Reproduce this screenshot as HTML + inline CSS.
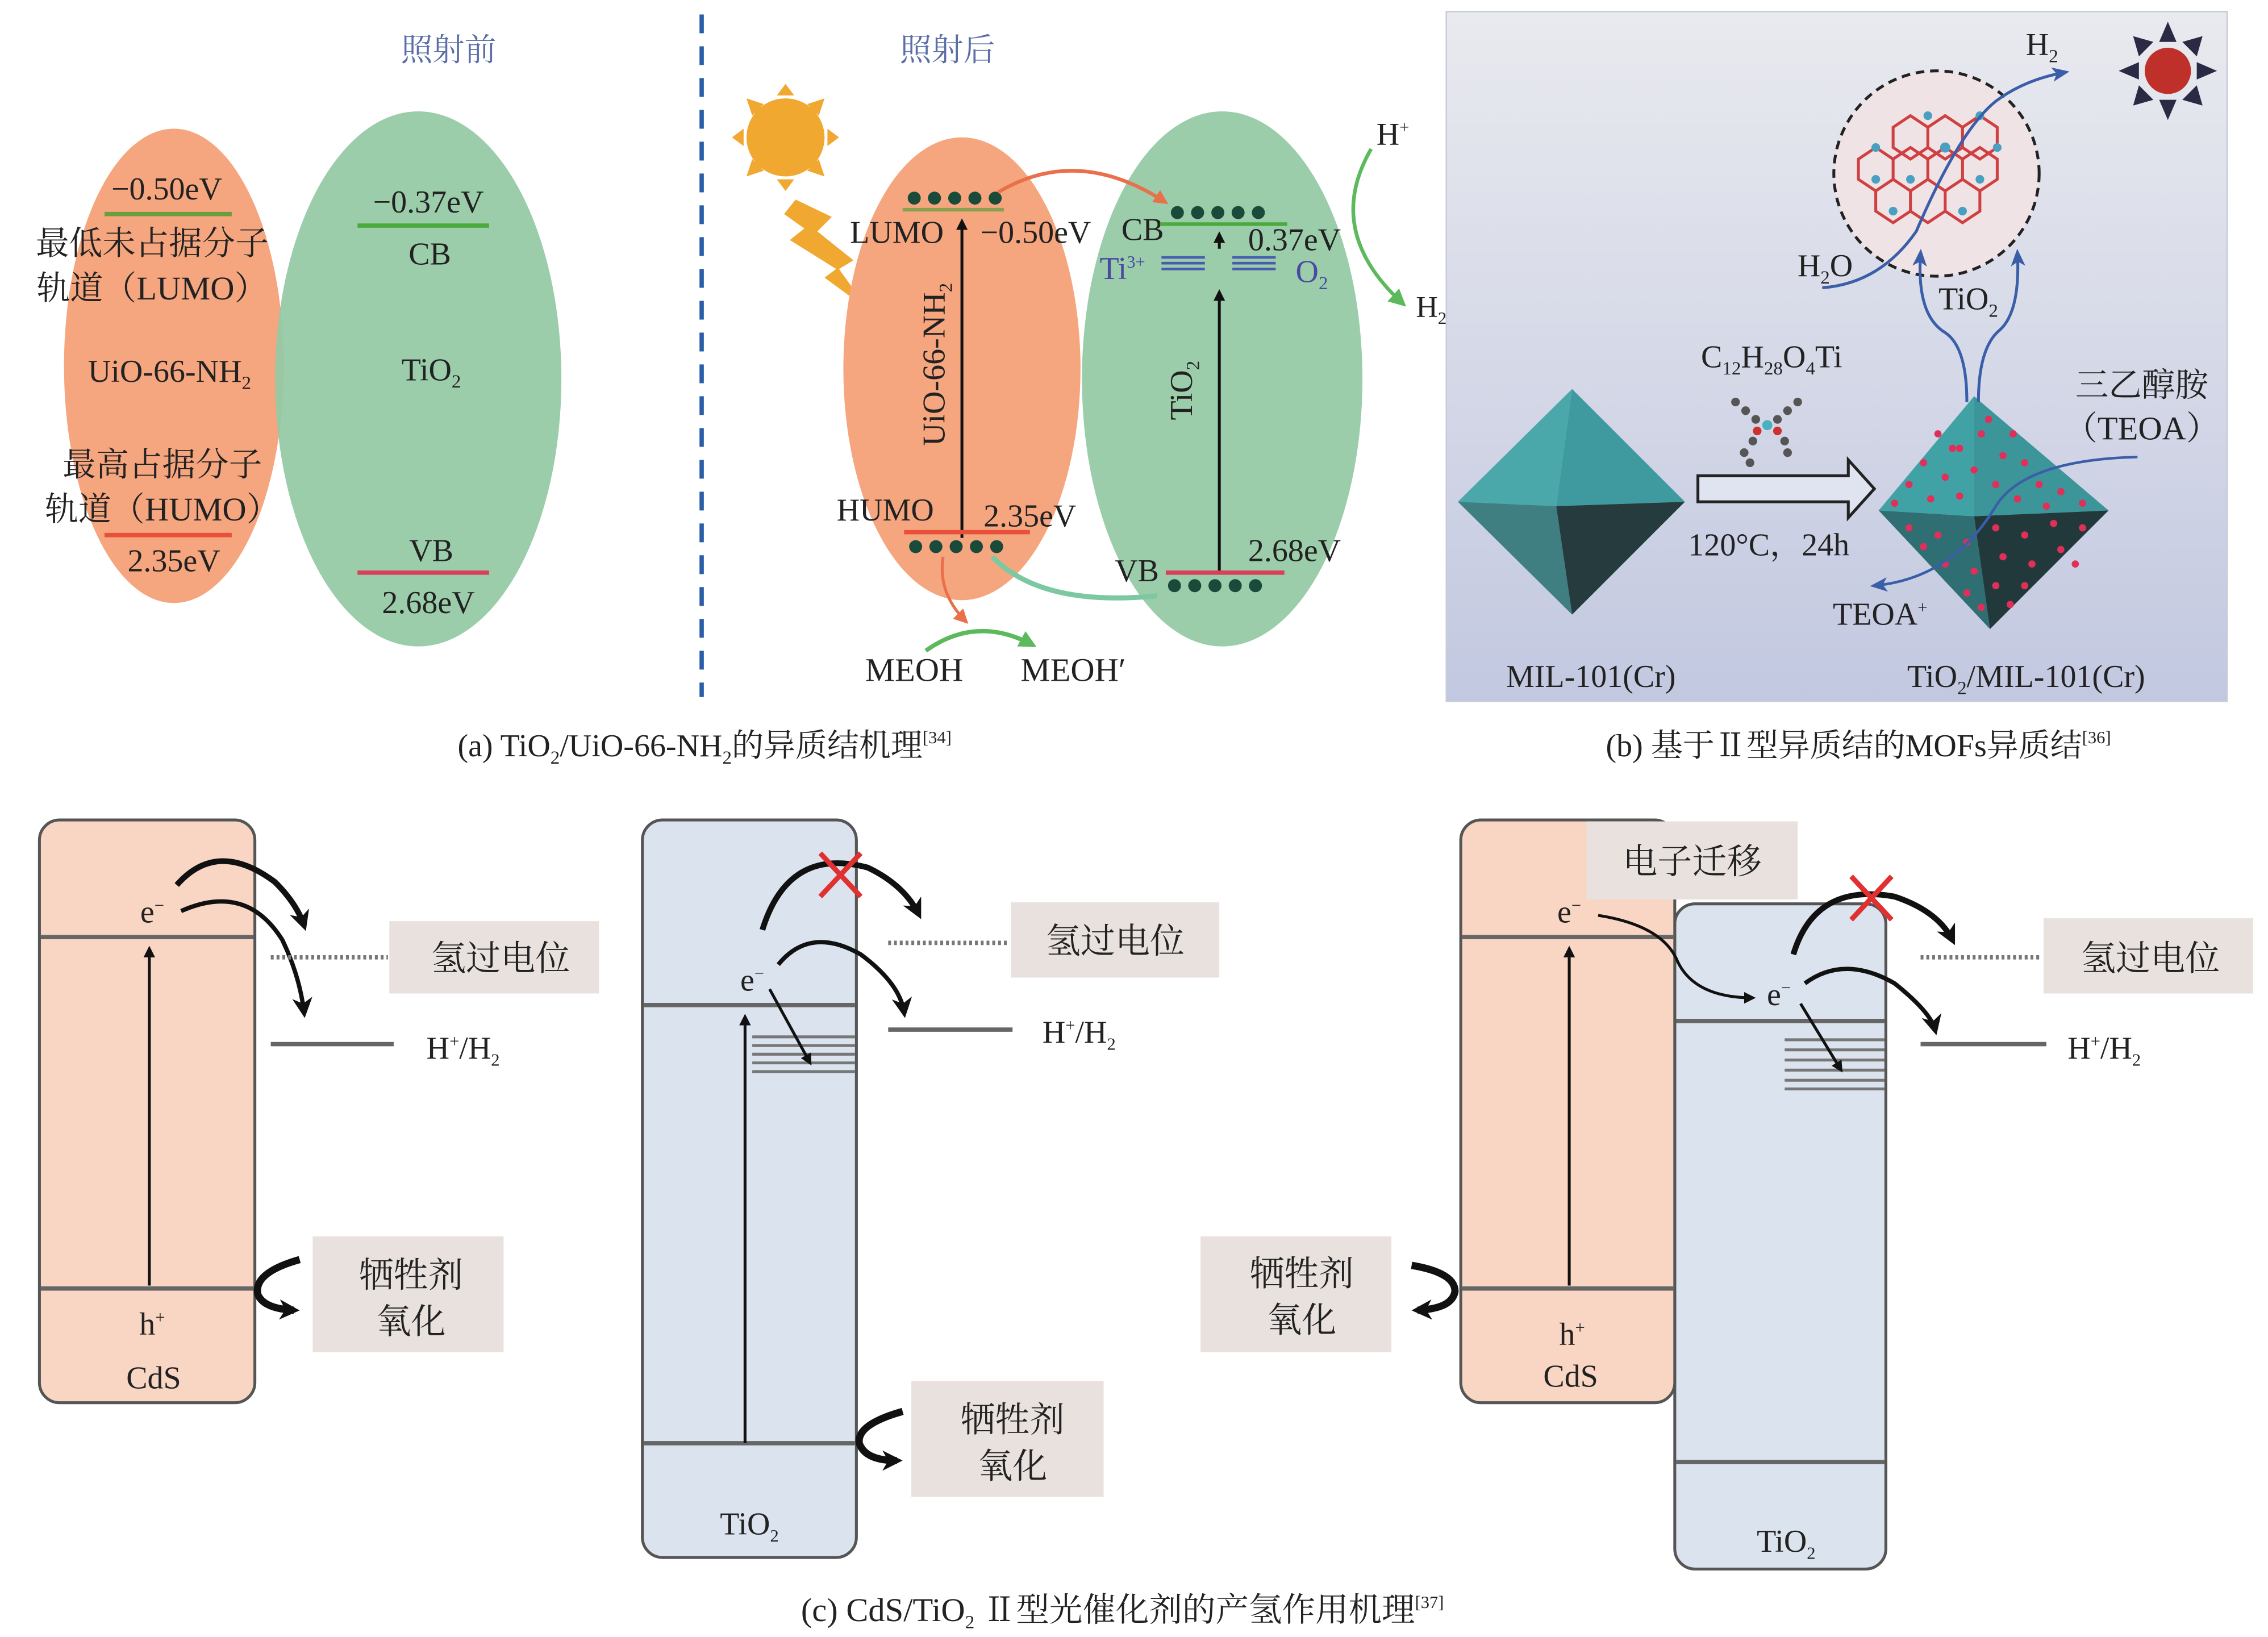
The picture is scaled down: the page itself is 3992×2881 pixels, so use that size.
<!DOCTYPE html>
<html><head><meta charset="utf-8"><style>
html,body{margin:0;padding:0;background:#fff;}
svg{display:block;}
text{font-family:"Liberation Serif","Noto Serif CJK SC",serif;fill:#222;}
</style></head><body>
<svg width="3992" height="2881" viewBox="0 0 1568 1132" xmlns="http://www.w3.org/2000/svg">
<defs>
<marker id="ak" markerWidth="8" markerHeight="8" refX="6" refY="4" orient="auto" markerUnits="userSpaceOnUse"><path d="M0,0 L8,4 L0,8 z" fill="#111"/></marker>
<marker id="akb" markerWidth="14" markerHeight="14" refX="10" refY="7" orient="auto" markerUnits="userSpaceOnUse"><path d="M0,0 L14,7 L0,14 L4,7 z" fill="#111"/></marker>
<marker id="ao" markerWidth="10" markerHeight="10" refX="8" refY="5" orient="auto" markerUnits="userSpaceOnUse"><path d="M0,0 L10,5 L0,10 z" fill="#e8704a"/></marker>
<marker id="ag" markerWidth="12" markerHeight="12" refX="9" refY="6" orient="auto" markerUnits="userSpaceOnUse"><path d="M0,0 L12,6 L0,12 z" fill="#5cba5c"/></marker>
<marker id="abl" markerWidth="12" markerHeight="12" refX="9" refY="6" orient="auto" markerUnits="userSpaceOnUse"><path d="M0,1 L12,6 L0,11 L3,6 z" fill="#3a5ea8"/></marker>
<linearGradient id="bg" x1="0" y1="0" x2="0" y2="1"><stop offset="0" stop-color="#e9eaef"/><stop offset="1" stop-color="#c2c8e0"/></linearGradient>
</defs>

<!-- Panel a: before -->
<text x="310" y="42" font-size="22" text-anchor="middle" style="fill:#5b6ea8">照射前</text>
<ellipse cx="120" cy="253" rx="76" ry="164" fill="#f5a67f"/>
<ellipse cx="289" cy="262" rx="99" ry="185" fill="#93c9a5" fill-opacity="0.93"/>
<text x="115" y="138" font-size="22" text-anchor="middle">−0.50eV</text>
<line x1="72" y1="148" x2="160" y2="148" stroke="#6a9e3c" stroke-width="3"/>
<text x="105" y="176" font-size="23" text-anchor="middle">最低未占据分子</text>
<text x="105" y="207" font-size="23" text-anchor="middle">轨道（LUMO）</text>
<text x="117" y="264" font-size="22" text-anchor="middle">UiO-66-NH<tspan font-size="13" dy="5">2</tspan></text>
<text x="112" y="329" font-size="23" text-anchor="middle">最高占据分子</text>
<text x="112" y="360" font-size="23" text-anchor="middle">轨道（HUMO）</text>
<line x1="72" y1="370" x2="160" y2="370" stroke="#e8503a" stroke-width="3"/>
<text x="120" y="395" font-size="22" text-anchor="middle">2.35eV</text>
<text x="296" y="147" font-size="22" text-anchor="middle">−0.37eV</text>
<line x1="247" y1="156" x2="338" y2="156" stroke="#4caa3c" stroke-width="3"/>
<text x="297" y="183" font-size="22" text-anchor="middle">CB</text>
<text x="298" y="263" font-size="22" text-anchor="middle">TiO<tspan font-size="13" dy="5">2</tspan></text>
<text x="298" y="388" font-size="22" text-anchor="middle">VB</text>
<line x1="247" y1="396" x2="338" y2="396" stroke="#d8405a" stroke-width="3"/>
<text x="296" y="424" font-size="22" text-anchor="middle">2.68eV</text>

<line x1="485" y1="10" x2="485" y2="482" stroke="#2a5fa8" stroke-width="3" stroke-dasharray="13,9"/>

<!-- Panel a: after -->
<text x="655" y="42" font-size="22" text-anchor="middle" style="fill:#5b6ea8">照射后</text>
<g fill="#f0a830">
<circle cx="543" cy="95" r="27"/>
<polygon points="543,58 537,66 549,66"/><polygon points="543,132 537,124 549,124"/>
<polygon points="506,95 514,89 514,101"/><polygon points="580,95 572,89 572,101"/>
<polygon points="516,68 528,72 520,80"/><polygon points="570,68 558,72 566,80"/>
<polygon points="516,122 528,118 520,110"/><polygon points="570,122 558,118 566,110"/>
<polygon points="550,138 575,150 565,160 590,180 580,186 600,214 570,192 578,186 546,166 556,158 542,148"/>
</g>
<ellipse cx="665" cy="255" rx="82" ry="160" fill="#f5a67f"/>
<ellipse cx="845" cy="262" rx="97" ry="185" fill="#93c9a5" fill-opacity="0.93"/>
<g fill="#1a4a3a"><circle cx="632" cy="137" r="4.5"/><circle cx="646" cy="137" r="4.5"/><circle cx="660" cy="137" r="4.5"/><circle cx="674" cy="137" r="4.5"/><circle cx="688" cy="137" r="4.5"/></g>
<line x1="624" y1="145" x2="694" y2="145" stroke="#8aa050" stroke-width="2.5"/>
<text x="620" y="168" font-size="22" text-anchor="middle">LUMO</text>
<text x="716" y="168" font-size="22" text-anchor="middle">−0.50eV</text>
<line x1="665" y1="372" x2="665" y2="153" stroke="#111" stroke-width="2" marker-end="url(#ak)"/>
<text transform="translate(653,252) rotate(-90)" font-size="22" text-anchor="middle">UiO-66-NH<tspan font-size="13" dy="5">2</tspan></text>
<text x="612" y="360" font-size="22" text-anchor="middle">HUMO</text>
<text x="712" y="364" font-size="22" text-anchor="middle">2.35eV</text>
<line x1="625" y1="368" x2="712" y2="368" stroke="#e8503a" stroke-width="3"/>
<g fill="#1a4a3a"><circle cx="633" cy="378" r="4.5"/><circle cx="647" cy="378" r="4.5"/><circle cx="661" cy="378" r="4.5"/><circle cx="675" cy="378" r="4.5"/><circle cx="689" cy="378" r="4.5"/></g>
<text x="790" y="166" font-size="22" text-anchor="middle">CB</text>
<g fill="#1a4a3a"><circle cx="814" cy="147" r="4.5"/><circle cx="828" cy="147" r="4.5"/><circle cx="842" cy="147" r="4.5"/><circle cx="856" cy="147" r="4.5"/><circle cx="870" cy="147" r="4.5"/></g>
<line x1="802" y1="155" x2="890" y2="155" stroke="#4caa3c" stroke-width="2.5"/>
<text x="895" y="173" font-size="22" text-anchor="middle">0.37eV</text>
<text x="776" y="193" font-size="22" text-anchor="middle" style="fill:#4a4aa0">Ti<tspan font-size="12" dy="-8">3+</tspan></text>
<g stroke="#4a5ab0" stroke-width="1.8"><line x1="803" y1="178" x2="833" y2="178"/><line x1="803" y1="182" x2="833" y2="182"/><line x1="803" y1="186" x2="833" y2="186"/><line x1="852" y1="178" x2="882" y2="178"/><line x1="852" y1="182" x2="882" y2="182"/><line x1="852" y1="186" x2="882" y2="186"/></g>
<text x="907" y="195" font-size="22" text-anchor="middle" style="fill:#4a4aa0">O<tspan font-size="13" dy="5">2</tspan></text>
<line x1="843" y1="172" x2="843" y2="162" stroke="#111" stroke-width="2" marker-end="url(#ak)"/>
<line x1="843" y1="396" x2="843" y2="202" stroke="#111" stroke-width="2" marker-end="url(#ak)"/>
<text transform="translate(824,270) rotate(-90)" font-size="22" text-anchor="middle">TiO<tspan font-size="13" dy="5">2</tspan></text>
<text x="895" y="388" font-size="22" text-anchor="middle">2.68eV</text>
<text x="786" y="402" font-size="22" text-anchor="middle">VB</text>
<line x1="806" y1="396" x2="888" y2="396" stroke="#d8405a" stroke-width="3"/>
<g fill="#1a4a3a"><circle cx="812" cy="405" r="4.5"/><circle cx="826" cy="405" r="4.5"/><circle cx="840" cy="405" r="4.5"/><circle cx="854" cy="405" r="4.5"/><circle cx="868" cy="405" r="4.5"/></g>
<path d="M690,133 Q745,100 806,140" fill="none" stroke="#e8704a" stroke-width="2.5" marker-end="url(#ao)"/>
<path d="M800,412 Q720,420 686,385" fill="none" stroke="#7cc8a0" stroke-width="3.5"/>
<path d="M652,385 Q648,410 668,430" fill="none" stroke="#e8704a" stroke-width="2" marker-end="url(#ao)"/>
<path d="M640,450 Q675,425 714,446" fill="none" stroke="#5cba5c" stroke-width="3" marker-end="url(#ag)"/>
<text x="632" y="471" font-size="23" text-anchor="middle">MEOH</text>
<text x="742" y="471" font-size="23" text-anchor="middle">MEOH′</text>
<text x="963" y="100" font-size="22" text-anchor="middle">H<tspan font-size="12" dy="-8">+</tspan></text>
<path d="M948,103 Q915,160 970,210" fill="none" stroke="#5cba5c" stroke-width="2.5" marker-end="url(#ag)"/>
<text x="979" y="219" font-size="21">H<tspan font-size="12" dy="5">2</tspan></text>
<text x="487" y="523" font-size="22" text-anchor="middle">(a) TiO<tspan font-size="13" dy="5">2</tspan><tspan dy="-5">/UiO-66-NH</tspan><tspan font-size="13" dy="5">2</tspan><tspan dy="-5">的异质结机理</tspan><tspan font-size="12" dy="-9">[34]</tspan></text>

<!-- Panel b -->
<rect x="1000" y="8" width="540" height="477" fill="url(#bg)" stroke="#c8ccd8"/>
<polygon points="1087,269 1008,347 1076,350" fill="#4aa7aa"/>
<polygon points="1087,269 1165,347 1076,350" fill="#3e9a9e"/>
<polygon points="1008,347 1076,350 1087,425" fill="#3f7f82"/>
<polygon points="1165,347 1076,350 1087,425" fill="#253b3d"/>
<polygon points="1174,329 1278,329 1278,318 1296,338 1278,358 1278,347 1174,347" fill="#dfe4f0" stroke="#222" stroke-width="2"/>
<text x="1225" y="254" font-size="22" text-anchor="middle">C<tspan font-size="13" dy="5">12</tspan><tspan dy="-5">H</tspan><tspan font-size="13" dy="5">28</tspan><tspan dy="-5">O</tspan><tspan font-size="13" dy="5">4</tspan><tspan dy="-5">Ti</tspan></text>
<g fill="#555"><circle cx="1200" cy="278" r="3"/><circle cx="1207" cy="284" r="3"/><circle cx="1214" cy="290" r="3"/><circle cx="1243" cy="278" r="3"/><circle cx="1236" cy="284" r="3"/><circle cx="1229" cy="290" r="3"/><circle cx="1212" cy="305" r="3"/><circle cx="1206" cy="313" r="3"/><circle cx="1234" cy="305" r="3"/><circle cx="1236" cy="313" r="3"/><circle cx="1210" cy="320" r="3"/></g>
<circle cx="1222" cy="294" r="3.5" fill="#4ab0c0"/><circle cx="1215" cy="298" r="3" fill="#d03030"/><circle cx="1229" cy="298" r="3" fill="#d03030"/>
<text x="1223" y="384" font-size="22" text-anchor="middle">120°C，24h</text>
<polygon points="1365,274 1299,353 1365,357" fill="#41a2a6"/>
<polygon points="1365,274 1458,353 1365,357" fill="#3c9599"/>
<polygon points="1299,353 1365,357 1376,435" fill="#2f6e72"/>
<polygon points="1458,353 1365,357 1376,435" fill="#22393b"/>
<g fill="#e0305a">
<circle cx="1340" cy="300" r="2.5"/><circle cx="1355" cy="310" r="2.5"/><circle cx="1370" cy="300" r="2.5"/><circle cx="1385" cy="315" r="2.5"/><circle cx="1400" cy="320" r="2.5"/><circle cx="1330" cy="320" r="2.5"/><circle cx="1320" cy="335" r="2.5"/><circle cx="1345" cy="330" r="2.5"/><circle cx="1365" cy="325" r="2.5"/><circle cx="1380" cy="335" r="2.5"/><circle cx="1410" cy="335" r="2.5"/><circle cx="1425" cy="340" r="2.5"/><circle cx="1440" cy="348" r="2.5"/><circle cx="1310" cy="348" r="2.5"/><circle cx="1335" cy="345" r="2.5"/><circle cx="1355" cy="343" r="2.5"/><circle cx="1395" cy="345" r="2.5"/><circle cx="1320" cy="365" r="2.5"/><circle cx="1340" cy="370" r="2.5"/><circle cx="1360" cy="375" r="2.5"/><circle cx="1380" cy="365" r="2.5"/><circle cx="1400" cy="370" r="2.5"/><circle cx="1420" cy="362" r="2.5"/><circle cx="1440" cy="365" r="2.5"/><circle cx="1345" cy="390" r="2.5"/><circle cx="1365" cy="395" r="2.5"/><circle cx="1385" cy="385" r="2.5"/><circle cx="1405" cy="390" r="2.5"/><circle cx="1425" cy="380" r="2.5"/><circle cx="1360" cy="410" r="2.5"/><circle cx="1380" cy="405" r="2.5"/><circle cx="1400" cy="405" r="2.5"/><circle cx="1370" cy="420" r="2.5"/><circle cx="1390" cy="418" r="2.5"/><circle cx="1350" cy="310" r="2.5"/><circle cx="1375" cy="290" r="2.5"/><circle cx="1392" cy="300" r="2.5"/><circle cx="1415" cy="350" r="2.5"/><circle cx="1330" cy="378" r="2.5"/><circle cx="1435" cy="390" r="2.5"/></g>
<circle cx="1339" cy="120" r="71" fill="#efe3e6" stroke="#222" stroke-width="2" stroke-dasharray="6,4"/>
<g stroke="#d04040" stroke-width="2" fill="none">
<path d="M1285,110 l12,-8 l12,8 l0,14 l-12,8 l-12,-8z M1309,110 l12,-8 l12,8 l0,14 l-12,8 l-12,-8z M1333,110 l12,-8 l12,8 l0,14 l-12,8 l-12,-8z M1357,110 l12,-8 l12,8 l0,14 l-12,8 l-12,-8z M1297,132 l12,-8 l12,8 l0,14 l-12,8 l-12,-8z M1321,132 l12,-8 l12,8 l0,14 l-12,8 l-12,-8z M1345,132 l12,-8 l12,8 l0,14 l-12,8 l-12,-8z M1309,88 l12,-8 l12,8 l0,14 l-12,8 l-12,-8z M1333,88 l12,-8 l12,8 l0,14 l-12,8 l-12,-8z M1357,88 l12,-8 l12,8 l0,14 l-12,8 l-12,-8z"/></g>
<g fill="#4aa0c0"><circle cx="1297" cy="102" r="3"/><circle cx="1321" cy="124" r="3"/><circle cx="1345" cy="102" r="3.5"/><circle cx="1369" cy="124" r="3"/><circle cx="1309" cy="146" r="3"/><circle cx="1357" cy="146" r="3"/><circle cx="1333" cy="80" r="3"/><circle cx="1381" cy="102" r="3"/><circle cx="1297" cy="124" r="3"/><circle cx="1369" cy="80" r="3"/></g>
<path d="M1260,199 Q1300,196 1325,160 Q1355,90 1380,70 Q1400,55 1428,50" fill="none" stroke="#3a5ea8" stroke-width="2" marker-end="url(#abl)"/>
<path d="M1360,278 Q1360,240 1345,230 Q1325,218 1328,175" fill="none" stroke="#3a5ea8" stroke-width="2" marker-end="url(#abl)"/>
<path d="M1368,278 Q1368,240 1383,228 Q1397,215 1395,175" fill="none" stroke="#3a5ea8" stroke-width="2" marker-end="url(#abl)"/>
<path d="M1478,316 Q1400,318 1380,350 Q1350,400 1296,405" fill="none" stroke="#3a5ea8" stroke-width="1.8" marker-end="url(#abl)"/>
<g transform="translate(1499,49)">
<polygon points="0,-34 -6,-20 6,-20" fill="#2a2a44"/><polygon points="0,34 -6,20 6,20" fill="#2a2a44"/><polygon points="-34,0 -20,-6 -20,6" fill="#2a2a44"/><polygon points="34,0 20,-6 20,6" fill="#2a2a44"/>
<polygon points="-24,-24 -20,-10 -10,-20" fill="#2a2a44"/><polygon points="24,-24 20,-10 10,-20" fill="#2a2a44"/><polygon points="-24,24 -20,10 -10,20" fill="#2a2a44"/><polygon points="24,24 20,10 10,20" fill="#2a2a44"/>
<circle r="16" fill="#c0302a"/></g>
<text x="1412" y="38" font-size="22" text-anchor="middle">H<tspan font-size="13" dy="5">2</tspan></text>
<text x="1262" y="191" font-size="22" text-anchor="middle">H<tspan font-size="13" dy="5">2</tspan><tspan dy="-5">O</tspan></text>
<text x="1361" y="214" font-size="22" text-anchor="middle">TiO<tspan font-size="13" dy="5">2</tspan></text>
<text x="1481" y="274" font-size="23" text-anchor="middle">三乙醇胺</text>
<text x="1481" y="304" font-size="23" text-anchor="middle">（TEOA）</text>
<text x="1300" y="432" font-size="22" text-anchor="middle">TEOA<tspan font-size="12" dy="-8">+</tspan></text>
<text x="1100" y="475" font-size="22" text-anchor="middle">MIL-101(Cr)</text>
<text x="1401" y="475" font-size="22" text-anchor="middle">TiO<tspan font-size="13" dy="5">2</tspan><tspan dy="-5">/MIL-101(Cr)</tspan></text>
<text x="1285" y="523" font-size="22" text-anchor="middle">(b) 基于Ⅱ型异质结的MOFs异质结<tspan font-size="12" dy="-9">[36]</tspan></text>

<!-- Panel c -->
<g font-size="24">
<rect x="27" y="567" width="149" height="403" rx="14" fill="#f9d6c3" stroke="#555" stroke-width="2"/>
<line x1="28" y1="648" x2="175" y2="648" stroke="#666" stroke-width="3"/>
<line x1="28" y1="891" x2="175" y2="891" stroke="#666" stroke-width="3"/>
<line x1="103" y1="889" x2="103" y2="656" stroke="#111" stroke-width="2" marker-end="url(#ak)"/>
<text x="105" y="638" font-size="22" text-anchor="middle">e<tspan font-size="12" dy="-8">−</tspan></text>
<text x="105" y="923" font-size="22" text-anchor="middle">h<tspan font-size="12" dy="-8">+</tspan></text>
<text x="106" y="960" font-size="22" text-anchor="middle">CdS</text>
<path d="M122,612 Q150,580 190,610 Q205,625 210,640" fill="none" stroke="#111" stroke-width="4" marker-end="url(#akb)"/>
<path d="M125,630 Q170,610 195,650 Q207,675 210,700" fill="none" stroke="#111" stroke-width="3" marker-end="url(#akb)"/>
<line x1="187" y1="662" x2="268" y2="662" stroke="#777" stroke-width="3" stroke-dasharray="2,2"/>
<rect x="269" y="637" width="145" height="50" fill="#e8e1de"/>
<text x="346" y="671" text-anchor="middle">氢过电位</text>
<line x1="187" y1="722" x2="272" y2="722" stroke="#666" stroke-width="3"/>
<text x="320" y="732" font-size="22" text-anchor="middle">H<tspan font-size="12" dy="-8">+</tspan><tspan dy="8">/H</tspan><tspan font-size="12" dy="5">2</tspan></text>
<path d="M207,871 Q175,880 178,895 Q182,905 203,906" fill="none" stroke="#111" stroke-width="5" marker-end="url(#akb)"/>
<rect x="216" y="855" width="132" height="80" fill="#e8e1de"/>
<text x="284" y="890" text-anchor="middle">牺牲剂</text>
<text x="284" y="922" text-anchor="middle">氧化</text>

<rect x="444" y="567" width="148" height="510" rx="14" fill="#dbe3ee" stroke="#555" stroke-width="2"/>
<line x1="445" y1="695" x2="591" y2="695" stroke="#666" stroke-width="3"/>
<line x1="445" y1="998" x2="591" y2="998" stroke="#666" stroke-width="3"/>
<g stroke="#777" stroke-width="2"><line x1="520" y1="717" x2="591" y2="717"/><line x1="520" y1="723" x2="591" y2="723"/><line x1="520" y1="729" x2="591" y2="729"/><line x1="520" y1="735" x2="591" y2="735"/><line x1="520" y1="741" x2="591" y2="741"/></g>
<line x1="515" y1="998" x2="515" y2="703" stroke="#111" stroke-width="2" marker-end="url(#ak)"/>
<text x="520" y="685" font-size="22" text-anchor="middle">e<tspan font-size="12" dy="-8">−</tspan></text>
<line x1="532" y1="684" x2="560" y2="735" stroke="#111" stroke-width="2" marker-end="url(#ak)"/>
<path d="M527,643 Q545,585 600,600 Q625,612 635,632" fill="none" stroke="#111" stroke-width="4" marker-end="url(#akb)"/>
<path d="M538,667 Q560,640 595,660 Q622,680 625,700" fill="none" stroke="#111" stroke-width="3" marker-end="url(#akb)"/>
<g stroke="#e03030" stroke-width="3.5"><line x1="567" y1="590" x2="595" y2="620"/><line x1="595" y1="590" x2="567" y2="620"/></g>
<line x1="614" y1="652" x2="697" y2="652" stroke="#777" stroke-width="3" stroke-dasharray="2,2"/>
<rect x="699" y="624" width="144" height="52" fill="#e8e1de"/>
<text x="771" y="659" text-anchor="middle">氢过电位</text>
<line x1="614" y1="712" x2="700" y2="712" stroke="#666" stroke-width="3"/>
<text x="746" y="721" font-size="22" text-anchor="middle">H<tspan font-size="12" dy="-8">+</tspan><tspan dy="8">/H</tspan><tspan font-size="12" dy="5">2</tspan></text>
<path d="M624,976 Q592,985 594,998 Q598,1010 620,1010" fill="none" stroke="#111" stroke-width="5" marker-end="url(#akb)"/>
<rect x="630" y="955" width="133" height="80" fill="#e8e1de"/>
<text x="700" y="990" text-anchor="middle">牺牲剂</text>
<text x="700" y="1022" text-anchor="middle">氧化</text>
<text x="518" y="1061" font-size="22" text-anchor="middle">TiO<tspan font-size="12" dy="5">2</tspan></text>

<rect x="1158" y="625" width="146" height="460" rx="14" fill="#dbe3ee" stroke="#555" stroke-width="2"/>
<rect x="1010" y="567" width="148" height="403" rx="14" fill="#f9d6c3" stroke="#555" stroke-width="2"/>
<line x1="1011" y1="648" x2="1157" y2="648" stroke="#666" stroke-width="3"/>
<line x1="1011" y1="891" x2="1157" y2="891" stroke="#666" stroke-width="3"/>
<line x1="1159" y1="706" x2="1303" y2="706" stroke="#666" stroke-width="3"/>
<line x1="1159" y1="1011" x2="1303" y2="1011" stroke="#666" stroke-width="3"/>
<g stroke="#777" stroke-width="2"><line x1="1234" y1="719" x2="1303" y2="719"/><line x1="1234" y1="726" x2="1303" y2="726"/><line x1="1234" y1="733" x2="1303" y2="733"/><line x1="1234" y1="740" x2="1303" y2="740"/><line x1="1234" y1="747" x2="1303" y2="747"/><line x1="1234" y1="753" x2="1303" y2="753"/></g>
<line x1="1085" y1="889" x2="1085" y2="656" stroke="#111" stroke-width="2" marker-end="url(#ak)"/>
<text x="1085" y="638" font-size="22" text-anchor="middle">e<tspan font-size="12" dy="-8">−</tspan></text>
<text x="1087" y="930" font-size="22" text-anchor="middle">h<tspan font-size="12" dy="-8">+</tspan></text>
<text x="1086" y="959" font-size="22" text-anchor="middle">CdS</text>
<path d="M1105,633 Q1150,640 1160,665 Q1172,690 1212,690" fill="none" stroke="#111" stroke-width="2" marker-end="url(#ak)"/>
<text x="1230" y="695" font-size="22" text-anchor="middle">e<tspan font-size="12" dy="-8">−</tspan></text>
<line x1="1245" y1="694" x2="1273" y2="740" stroke="#111" stroke-width="2" marker-end="url(#ak)"/>
<path d="M1240,660 Q1255,610 1310,620 Q1340,630 1350,650" fill="none" stroke="#111" stroke-width="4" marker-end="url(#akb)"/>
<path d="M1248,680 Q1275,660 1310,680 Q1335,700 1338,712" fill="none" stroke="#111" stroke-width="3" marker-end="url(#akb)"/>
<g stroke="#e03030" stroke-width="3.5"><line x1="1280" y1="606" x2="1308" y2="636"/><line x1="1308" y1="606" x2="1280" y2="636"/></g>
<rect x="1097" y="568" width="146" height="54" fill="#e8e1de"/>
<text x="1170" y="604" text-anchor="middle">电子迁移</text>
<line x1="1328" y1="662" x2="1410" y2="662" stroke="#777" stroke-width="3" stroke-dasharray="2,2"/>
<rect x="1413" y="635" width="145" height="52" fill="#e8e1de"/>
<text x="1487" y="671" text-anchor="middle">氢过电位</text>
<line x1="1328" y1="722" x2="1415" y2="722" stroke="#666" stroke-width="3"/>
<text x="1455" y="732" font-size="22" text-anchor="middle">H<tspan font-size="12" dy="-8">+</tspan><tspan dy="8">/H</tspan><tspan font-size="12" dy="5">2</tspan></text>
<path d="M976,875 Q1006,880 1006,893 Q1004,905 980,906" fill="none" stroke="#111" stroke-width="5" marker-end="url(#akb)"/>
<rect x="830" y="855" width="132" height="80" fill="#e8e1de"/>
<text x="900" y="889" text-anchor="middle">牺牲剂</text>
<text x="900" y="921" text-anchor="middle">氧化</text>
<text x="1235" y="1073" font-size="22" text-anchor="middle">TiO<tspan font-size="12" dy="5">2</tspan></text>
</g>
<text x="776" y="1121" font-size="23" text-anchor="middle">(c) CdS/TiO<tspan font-size="13" dy="5">2</tspan><tspan dy="-5"> Ⅱ型光催化剂的产氢作用机理</tspan><tspan font-size="12" dy="-9">[37]</tspan></text>
</svg>
</body></html>
